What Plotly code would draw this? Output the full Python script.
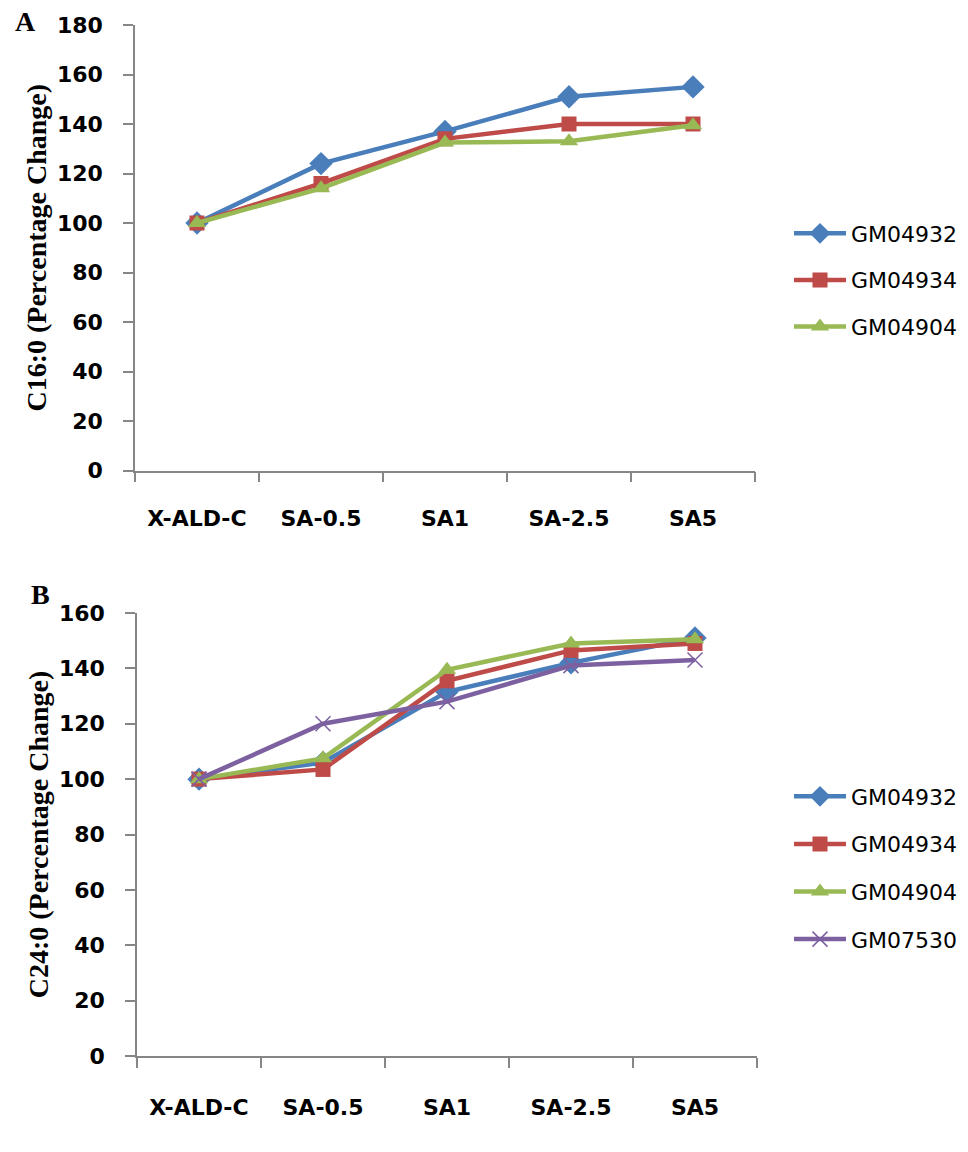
import plotly.graph_objects as go

categories = ["X-ALD-C", "SA-0.5", "SA1", "SA-2.5", "SA5"]

# Panel A: C16:0
a_gm04932 = [100, 124, 137, 151, 155]
a_gm04934 = [100, 116, 134, 140, 140]
a_gm04904 = [100, 114, 132.5, 133, 139.5]

# Panel B: C24:0
b_gm04932 = [100, 106, 131.5, 142, 151]
b_gm04934 = [100, 103.5, 135.5, 146.5, 149]
b_gm04904 = [100, 107.5, 139.5, 149, 150.5]
b_gm07530 = [100, 120, 128, 141, 143]

series_names = ["GM04932", "GM04934", "GM04904", "GM07530"]
colors = ["#4A7EBB", "#BE4B48", "#98B954", "#7D60A0"]
symbols = ["diamond", "square", "triangle-up", "x-thin"]
msizes = [18, 15, 16, 15]

fig = go.Figure()

def add(vals, i, xa, ya, legend):
    marker = dict(symbol=symbols[i], size=msizes[i], color=colors[i])
    if symbols[i] == "x-thin":
        marker["line"] = dict(color=colors[i], width=1.5)
    fig.add_trace(go.Scatter(
        x=categories, y=vals, name=series_names[i], mode="lines+markers",
        line=dict(color=colors[i], width=4.5), marker=marker,
        xaxis=xa, yaxis=ya, legend=legend, legendgroup=legend + str(i),
    ))

for i, v in enumerate([a_gm04932, a_gm04934, a_gm04904]):
    add(v, i, "x", "y", "legend")
for i, v in enumerate([b_gm04932, b_gm04934, b_gm04904, b_gm07530]):
    add(v, i, "x2", "y2", "legend2")

axcol = "#868686"
tickfont = dict(family="DejaVu Sans", size=22, color="black", weight="bold")
titlefont = dict(family="Liberation Serif", size=28, color="black", weight="bold")
legfont = dict(family="DejaVu Sans", size=22, color="black")

xcommon = dict(type="category", range=[-0.5, 4.5], showline=True, linecolor=axcol,
               linewidth=1.5, ticks="outside", ticklen=10, tickcolor=axcol, tickwidth=1.5,
               tickson="boundaries", showgrid=False, zeroline=False, tickfont=tickfont,
               fixedrange=True, automargin=False)
ycommon = dict(showline=True, linecolor=axcol, linewidth=1.5, ticks="outside", ticklen=10,
               tickcolor=axcol, tickwidth=1.5, dtick=20, showgrid=False, zeroline=False,
               tickfont=tickfont, ticklabelstandoff=16, fixedrange=True, automargin=False)

fig.update_layout(
    width=968, height=1152,
    margin=dict(l=0, r=0, t=0, b=0, autoexpand=False),
    paper_bgcolor="white", plot_bgcolor="white",
    xaxis=dict(domain=[135/968, 755/968], anchor="y", ticklabelstandoff=27, **xcommon),
    yaxis=dict(domain=[1-470.5/1152, 1-25/1152], anchor="x", range=[0, 180],
               title=dict(text="C16:0 (Percentage Change)", font=titlefont, standoff=2),
               **ycommon),
    xaxis2=dict(domain=[137/968, 757/968], anchor="y2", ticklabelstandoff=31, **xcommon),
    yaxis2=dict(domain=[1-1056/1152, 1-613/1152], anchor="x2", range=[0, 160],
                title=dict(text="C24:0 (Percentage Change)", font=titlefont, standoff=2),
                **ycommon),
    legend=dict(x=789/968, y=1-280/1152, xanchor="left", yanchor="middle",
                font=legfont, tracegroupgap=15, itemwidth=52,
                bgcolor="rgba(0,0,0,0)"),
    legend2=dict(x=789/968, y=1-868/1152, xanchor="left", yanchor="middle",
                 font=legfont, tracegroupgap=16, itemwidth=52,
                 bgcolor="rgba(0,0,0,0)"),
    annotations=[
        dict(text="A", x=25/968, y=1-22/1152, xref="paper", yref="paper", showarrow=False,
             xanchor="center", yanchor="middle",
             font=dict(family="Liberation Serif", size=28, color="black", weight="bold")),
        dict(text="B", x=40/968, y=1-594/1152, xref="paper", yref="paper", showarrow=False,
             xanchor="center", yanchor="middle",
             font=dict(family="Liberation Serif", size=28, color="black", weight="bold")),
    ],
)

fig.write_html("out.html", config={"displayModeBar": False},
               post_script="document.body.style.margin='0';")
